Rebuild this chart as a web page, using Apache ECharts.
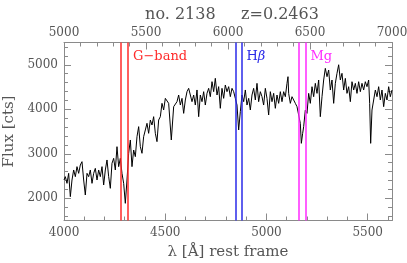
<!DOCTYPE html>
<html>
<head>
<meta charset="utf-8">
<script src="https://cdn.jsdelivr.net/npm/echarts@6/dist/echarts.min.js"></script>
<style>html,body{margin:0;padding:0;background:#fff}#c{width:407px;height:263px}</style>
</head>
<body>
<div id="c"></div>
<script>
// ---- data ----
const lambda = [4000,4006.6,4014.8,4023,4031.3,4039.5,4047.7,4056,4064.2,4072.4,4080.6,4088.9,4097.1,4105.3,4113.6,4121.8,4130,4138.3,4146.5,4154.7,4163,4171.2,4179.4,4187.7,4195.9,4204.1,4212.4,4220.6,4228.8,4237,4245.3,4253.5,4261.7,4270,4278.2,4286.4,4294.7,4302.9,4311.1,4319.4,4327.6,4335.8,4344.1,4352.3,4360.5,4368.8,4377,4385.2,4393.4,4401.7,4409.9,4418.1,4426.4,4434.6,4442.8,4451.1,4459.3,4467.5,4475.8,4484,4492.2,4500.5,4508.7,4516.9,4525.2,4530,4541.6,
4549.9,4558.1,4566.3,4574.6,4582.8,4591,4599.3,4607.5,4615.7,4624,4632.2,4640.4,4648.6,4656.9,4665.1,4673.3,4681.6,4689.8,4698,4706.3,4714.5,4722.7,4731,4739.2,4747.4,4755.7,4763.9,4772.1,4780.3,4788.6,4796.8,4805,4813.3,4821.5,4829.7,4838,4846.2,4854.4,4862.7,4870.9,4879.1,4887.4,4895.6,4903.8,4912.1,4920.3,4928.5,4936.7,4945,4953.2,4961.4,4969.7,4977.9,4986.1,4994.4,5002.6,5010.8,5019.1,5027.3,5035.5,5043.8,5052,5060.2,5068.5,5076.7,
5084.9,5093.2,5101.4,5106.3,5109.6,5117.9,5126.1,5134.3,5142.6,5150.8,5159,5167.2,5172.2,5178.8,5183.7,5191.9,5200.2,5208.4,5216.6,5224.9,5233.1,5241.3,5249.6,5257.8,5266,5274.3,5282.5,5290.7,5299,5307.2,5315.4,5323.6,5331.9,5340.1,5348.3,5356.6,5364.8,5373,5381.3,5389.5,5397.7,5406,5414.2,5422.4,5430.7,5438.9,5447.1,5455.3,5463.6,5471.8,5480,5488.3,5496.5,5504.7,5509.7,5514.6,5521.2,5529.4,5537.7,5545.9,5554.1,5562.4,5570.6,5578.8,5587.1,5595.3,5603.5,5611.7,5620];
const flux = [2410,2485,2335,2560,2036,2410,2635,2485,2710,2560,2747,2822,2410,2073,2560,2485,2635,2335,2560,2672,2410,2635,2485,2710,2298,2635,2860,2485,2223,2785,2897,2635,3159,2710,2897,2560,2335,1886,2410,3010,3309,2710,3084,2935,3384,3609,3159,3010,3384,3534,3684,3459,3758,3646,3833,3459,3272,3758,3833,4133,3983,4245,4283,4133,4170,3309,4058,
4095,4170,4320,4095,4245,3908,4208,4395,4470,4320,4170,4320,4095,4433,3833,4320,4170,4395,4095,4358,4470,4283,4620,4395,4695,4320,4508,4021,4470,4245,4545,4395,4508,4283,4470,4395,4245,4095,3534,3946,4320,4170,4433,4095,4245,3983,4320,4470,4208,4582,4170,4395,4283,4095,4470,4245,3871,4395,4170,4358,4021,4320,4133,4395,4170,
4395,4282,4582,4732,4357,4133,4282,4208,4133,4058,4095,3683,3234,3459,3608,3983,3908,4357,4133,4507,4282,4582,4357,4657,3833,4282,4657,4919,4732,4882,4432,4657,4133,4582,4807,5000,4657,4807,4432,4694,4357,4507,4170,4619,4432,4582,4357,4619,4395,4582,4432,4619,4507,4657,4133,3234,3983,4208,4432,4282,4507,4208,4432,4058,4357,4208,4507,4282,4432];

const bandNames = ['G\u2212band', 'H{i|\u03b2}', 'Mg'];
const bandEdges = [[4281.4, 4316.4], [4847.9, 4876.6], [5160.1, 5192.6]];
const bandColors = ['#ff2a2a', '#2a2ae8', '#ff2aff'];

const bottomMajor = [4000, 4500, 5000, 5500];
const bottomMinor = [4100,4200,4300,4400,4600,4700,4800,4900,5100,5200,5300,5400,5600];
const topMajor = [5000, 5500, 6000, 6500, 7000];
const topMinor = [5100,5200,5300,5400,5600,5700,5800,5900,6100,6200,6300,6400,6600,6700,6800,6900];
const yMajor = [2000, 3000, 4000, 5000];
const yMinor = [1600,1800,2200,2400,2600,2800,3200,3400,3600,3800,4200,4400,4600,4800,5200,5400];

const titleText = 'no. 2138     z=0.2463';
const xName = '\u03bb [\u00c5] rest frame';
const yName = 'Flux [cts]';

// ---- chart ----
const FONT = 'DejaVu Serif';
const AX = '#8a8a8a';
const LBL = '#555';
const chart = echarts.init(document.getElementById('c'), null, {renderer: 'canvas'});
const plain = v => String(v);

function axisBase(extra) {
  return Object.assign({
    type: 'value', gridIndex: 0, splitLine: {show: false},
    axisLine: {show: false, lineStyle: {color: AX, width: 1}},
    axisTick: {show: false},
    axisLabel: {show: false},
    minorTick: {show: false}
  }, extra);
}

const xRange = {min: 4000, max: 5620};
const topRange = {min: 5000, max: 7000};
const yRange = {min: 1500, max: 5500};

const option = {
  animation: false,
  backgroundColor: '#fff',
  title: {
    text: titleText, left: 227, top: 2, textAlign: 'center',
    textStyle: {fontFamily: FONT, fontSize: 16, fontWeight: 'normal', color: LBL}
  },
  grid: {left: 64, right: 15, top: 42.5, bottom: 42.5, containLabel: false, outerBoundsMode: 'none'},
  xAxis: [
    axisBase(Object.assign({
      position: 'bottom',
      axisLine: {show: true, onZero: false, lineStyle: {color: AX, width: 1}},
      axisTick: {show: true, inside: true, length: 7, customValues: bottomMajor, lineStyle: {color: AX}},
      axisLabel: {show: true, customValues: bottomMajor, formatter: plain, margin: 6, color: LBL, fontFamily: FONT, fontSize: 12},
      name: xName, nameLocation: 'middle', nameGap: 24,
      nameTextStyle: {fontFamily: FONT, fontSize: 15, color: LBL}
    }, xRange)),
    axisBase(Object.assign({
      position: 'bottom',
      axisTick: {show: true, inside: true, length: 4, customValues: bottomMinor, lineStyle: {color: AX}}
    }, xRange)),
    axisBase(Object.assign({
      position: 'top',
      axisLine: {show: true, onZero: false, lineStyle: {color: AX, width: 1}},
      axisTick: {show: true, inside: true, length: 7, customValues: topMajor, lineStyle: {color: AX}},
      axisLabel: {show: true, customValues: topMajor, formatter: plain, margin: 4, color: LBL, fontFamily: FONT, fontSize: 12}
    }, topRange)),
    axisBase(Object.assign({
      position: 'top',
      axisTick: {show: true, inside: true, length: 4, customValues: topMinor, lineStyle: {color: AX}}
    }, topRange))
  ],
  yAxis: [
    axisBase(Object.assign({
      position: 'left',
      axisLine: {show: true, onZero: false, lineStyle: {color: AX, width: 1}},
      axisTick: {show: true, inside: true, length: 7, customValues: yMajor, lineStyle: {color: AX}},
      axisLabel: {show: true, customValues: yMajor, formatter: plain, margin: 6, color: LBL, fontFamily: FONT, fontSize: 12},
      name: yName, nameLocation: 'middle', nameGap: 41, nameRotate: 90,
      nameTextStyle: {fontFamily: FONT, fontSize: 15, color: LBL}
    }, yRange)),
    axisBase(Object.assign({
      position: 'left',
      axisTick: {show: true, inside: true, length: 4, customValues: yMinor, lineStyle: {color: AX}}
    }, yRange)),
    axisBase(Object.assign({
      position: 'right',
      axisLine: {show: true, onZero: false, lineStyle: {color: AX, width: 1}},
      axisTick: {show: true, inside: true, length: 7, customValues: yMajor, lineStyle: {color: AX}}
    }, yRange)),
    axisBase(Object.assign({
      position: 'right',
      axisTick: {show: true, inside: true, length: 4, customValues: yMinor, lineStyle: {color: AX}}
    }, yRange))
  ],
  series: [
    {
      type: 'line', xAxisIndex: 0, yAxisIndex: 0,
      data: lambda.map((l, i) => [l, flux[i]]),
      showSymbol: false, symbol: 'none',
      lineStyle: {color: '#000', width: 1},
      z: 2
    }
  ].concat(bandEdges.map((edges, k) => ({
    type: 'line', xAxisIndex: 0, yAxisIndex: 0, data: [],
    markLine: {
      silent: true, symbol: 'none', animation: false,
      label: {show: false},
      lineStyle: {color: bandColors[k], width: 1.5, type: 'solid'},
      data: edges.map(v => ({xAxis: v}))
    },
    z: 3
  })))
};
chart.setOption(option);

// band labels placed next to the right edge of each band
const graphics = bandNames.map((name, k) => {
  const px = chart.convertToPixel({xAxisIndex: 0}, bandEdges[k][1]);
  const py = chart.convertToPixel({yAxisIndex: 0}, 5180);
  return {
    type: 'text', x: px + 5, y: py, z: 10,
    style: {
      text: name, fill: bandColors[k], font: '13px "' + FONT + '"',
      verticalAlign: 'middle', align: 'left',
      rich: {i: {fontStyle: 'italic', fontFamily: FONT, fontSize: 13, fill: bandColors[k]}}
    }
  };
});
chart.setOption({graphic: graphics});
</script>
</body>
</html>
